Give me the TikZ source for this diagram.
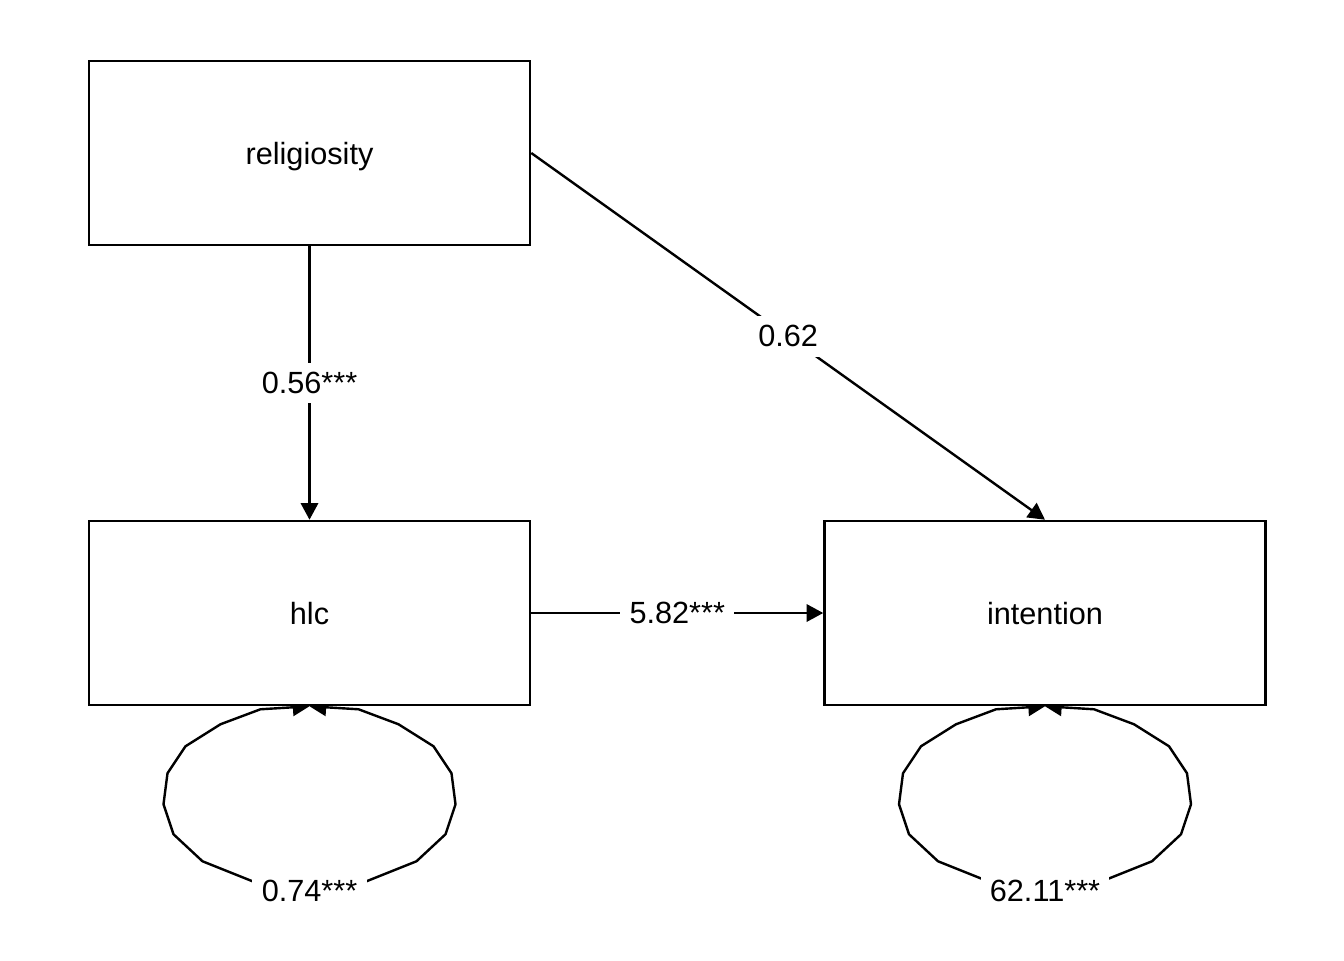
\documentclass[tikz,border=0pt]{standalone}
\usepackage{fontspec}
\setmainfont{Liberation Sans}
\usetikzlibrary{arrows.meta}
\pgfdeclarelayer{background}
\pgfsetlayers{background,main}
\begin{document}
\begin{tikzpicture}[x=0.75pt,y=-0.75pt,
  varbox/.style={draw,line width=1.9pt,fill=white,minimum width=330.75pt,minimum height=138pt,inner sep=0pt,text depth=0pt,font=\fontsize{23}{27}\selectfont},
  path/.style={line width=1.8pt,-{Triangle[length=12.5pt,width=13pt]}},
  looppath/.style={line width=1.8pt,line join=miter,{Triangle[length=12.5pt,width=13pt]}-{Triangle[length=12.5pt,width=13pt]}},
  elabel/.style={fill=white,inner xsep=7pt,inner ysep=7pt,font=\fontsize{23}{27}\selectfont}]
\useasboundingbox (0,0) rectangle (1344,960);
\node[varbox] (rel) at (309.5,153) {religiosity};
\node[varbox] (hlc) at (309.5,613) {hlc};
\node[varbox] (int) at (1045,613) {intention};
\draw[path] (rel.south) -- node[elabel] {0.56***} (hlc.north);
\draw[path] (rel.east) -- node[elabel] {0.62} (int.north);
\draw[path] (hlc.east) -- node[elabel] {5.82***} (int.west);
\begin{pgfonlayer}{background}
\foreach \n/\lab in {hlc/0.74***,int/62.11***}{
  \draw[looppath] (\n.south) -- ++(-49,3) -- ++(-40,15) -- ++(-35,22) -- ++(-18,27) -- ++(-4,31) -- ++(10,30) -- ++(29,27) -- ++(50,20) -- ++(57,9) coordinate (\n-bot) -- ++(57,-9) -- ++(50,-20) -- ++(29,-27) -- ++(10,-30) -- ++(-4,-31) -- ++(-18,-27) -- ++(-35,-22) -- ++(-40,-15) -- (\n.south);
  \node[elabel,anchor=center] at ([yshift=-0.5pt]\n-bot) {\lab};
}
\end{pgfonlayer}
\end{tikzpicture}
\end{document}
